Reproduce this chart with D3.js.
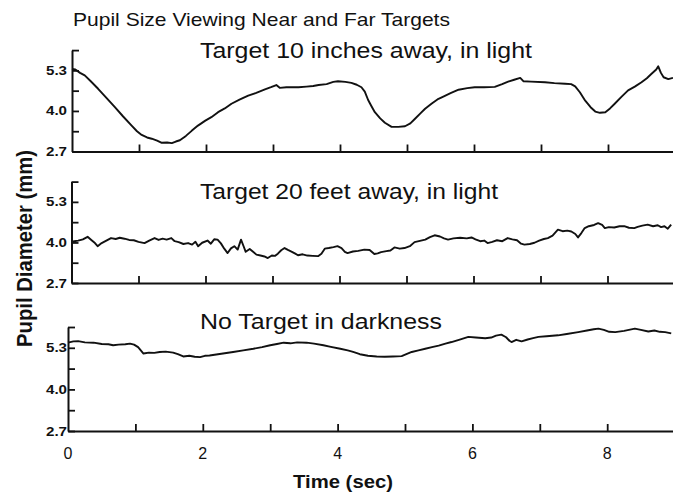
<!DOCTYPE html>
<html>
<head>
<meta charset="utf-8">
<script src="https://cdn.jsdelivr.net/npm/d3@7/dist/d3.min.js"></script>
<style>
  html, body { margin: 0; padding: 0; background: #fff; }
  svg { display: block; }
  text { font-family: "Liberation Sans", Arial, Helvetica, sans-serif; fill: #111; }
</style>
</head>
<body>
<svg id="chart" width="673" height="496"></svg>
<script>
// ---------------- DATA ----------------
const chartTitle = "Pupil Size Viewing Near and Far Targets";
const panelTitles = ["Target 10 inches away, in light", "Target 20 feet away, in light", "No Target in darkness"];
const xAxisLabel = "Time (sec)";
const yAxisLabel = "Pupil Diameter (mm)";
const xTickMarks = [1, 2, 3, 4, 5, 6, 7, 8];
const xTickLabels = [0, 2, 4, 6, 8];
const yTickMarks = [2.7, 3.35, 4.0, 4.65, 5.3, 5.95];
const yTickLabels = ["2.7", "4.0", "5.3"];

// Target 10 inches away, in light
const nearTime = [0.00,0.05,0.12,0.19,0.28,0.39,0.50,0.64,0.76,0.89,0.97,1.04,1.12,1.19,1.27,1.34,1.42,1.49,1.55,1.61,1.70,1.79,1.88,1.99,2.08,2.18,2.28,2.38,2.50,2.63,2.75,2.88,2.97,3.05,3.10,3.20,3.38,3.50,3.60,3.68,3.80,3.90,3.97,4.08,4.17,4.25,4.32,4.37,4.42,4.47,4.52,4.60,4.67,4.77,4.87,4.97,5.05,5.12,5.20,5.27,5.37,5.47,5.55,5.65,5.77,5.90,6.01,6.15,6.31,6.42,6.51,6.60,6.69,6.74,6.85,7.06,7.20,7.36,7.45,7.51,7.58,7.66,7.74,7.81,7.88,7.96,8.03,8.10,8.20,8.30,8.40,8.50,8.58,8.65,8.72,8.75,8.79,8.83,8.90,8.97];
const nearPupil = [5.35,5.33,5.22,5.14,4.95,4.71,4.45,4.12,3.83,3.53,3.35,3.23,3.15,3.11,3.05,2.98,2.99,2.97,3.02,3.06,3.20,3.37,3.53,3.69,3.80,3.96,4.08,4.23,4.36,4.49,4.58,4.69,4.76,4.83,4.74,4.76,4.76,4.78,4.80,4.83,4.86,4.93,4.95,4.93,4.90,4.84,4.76,4.62,4.35,4.15,3.96,3.76,3.62,3.49,3.49,3.51,3.60,3.75,3.92,4.07,4.24,4.39,4.47,4.57,4.68,4.73,4.76,4.76,4.77,4.86,4.94,5.00,5.06,4.95,4.94,4.92,4.89,4.87,4.86,4.79,4.60,4.33,4.12,3.98,3.94,3.96,4.08,4.23,4.45,4.66,4.78,4.92,5.05,5.19,5.33,5.43,5.22,5.08,5.02,5.06];

// Target 20 feet away, in light
const farTime = [0.00,0.04,0.10,0.17,0.24,0.30,0.35,0.39,0.45,0.52,0.59,0.66,0.72,0.79,0.86,0.93,1.00,1.09,1.16,1.24,1.30,1.36,1.42,1.49,1.54,1.60,1.67,1.74,1.80,1.85,1.89,1.95,2.03,2.08,2.13,2.18,2.23,2.28,2.33,2.38,2.43,2.48,2.53,2.57,2.60,2.66,2.71,2.76,2.82,2.88,2.93,2.99,3.04,3.08,3.13,3.18,3.23,3.29,3.34,3.38,3.45,3.52,3.60,3.68,3.73,3.78,3.84,3.91,3.97,4.03,4.08,4.12,4.20,4.28,4.37,4.45,4.52,4.57,4.62,4.70,4.76,4.82,4.90,4.97,5.05,5.12,5.20,5.28,5.35,5.42,5.50,5.56,5.62,5.70,5.80,5.90,5.97,6.03,6.10,6.16,6.21,6.28,6.35,6.43,6.51,6.58,6.65,6.71,6.76,6.84,6.91,6.98,7.05,7.11,7.18,7.26,7.33,7.40,7.46,7.52,7.56,7.61,7.66,7.72,7.80,7.86,7.92,7.96,8.02,8.10,8.18,8.25,8.32,8.40,8.45,8.52,8.60,8.68,8.75,8.80,8.85,8.90,8.95];
const farPupil = [4.02,4.04,4.06,4.10,4.18,4.07,3.98,3.88,3.98,4.06,4.14,4.11,4.15,4.12,4.08,4.07,4.02,3.98,4.06,4.14,4.08,4.12,4.09,4.14,4.04,4.01,3.95,3.98,3.93,4.02,3.88,3.99,4.06,3.96,4.10,4.09,3.97,3.80,3.66,3.81,3.88,3.77,4.09,3.87,3.70,3.79,3.70,3.61,3.58,3.55,3.50,3.58,3.57,3.64,3.75,3.82,3.76,3.70,3.64,3.59,3.62,3.58,3.57,3.56,3.64,3.80,3.82,3.85,3.88,3.82,3.70,3.66,3.71,3.73,3.77,3.76,3.63,3.65,3.69,3.72,3.74,3.84,3.80,3.82,3.88,4.01,4.05,4.09,4.17,4.23,4.19,4.13,4.09,4.13,4.15,4.13,4.16,4.10,4.04,4.06,3.98,4.02,4.07,4.04,4.14,4.10,4.07,3.96,3.93,3.95,3.99,4.06,4.11,4.14,4.22,4.41,4.36,4.38,4.35,4.27,4.16,4.30,4.46,4.52,4.56,4.62,4.56,4.46,4.49,4.48,4.52,4.52,4.47,4.46,4.50,4.54,4.57,4.52,4.55,4.49,4.52,4.44,4.57];

// No Target in darkness
const darkTime = [0.00,0.08,0.15,0.25,0.38,0.50,0.60,0.67,0.75,0.85,0.92,0.98,1.04,1.08,1.12,1.20,1.28,1.36,1.45,1.56,1.63,1.71,1.80,1.88,1.96,2.03,2.10,2.20,2.30,2.45,2.60,2.75,2.88,3.00,3.10,3.20,3.30,3.40,3.54,3.65,3.79,3.90,4.04,4.15,4.23,4.33,4.45,4.58,4.70,4.82,4.95,5.02,5.10,5.20,5.30,5.40,5.50,5.60,5.69,5.80,5.94,6.05,6.19,6.28,6.35,6.43,6.50,6.55,6.58,6.65,6.73,6.82,6.90,6.98,7.10,7.27,7.40,7.57,7.70,7.80,7.87,7.95,8.03,8.12,8.25,8.41,8.50,8.61,8.70,8.78,8.86,8.95];
const darkPupil = [5.46,5.50,5.51,5.47,5.46,5.42,5.41,5.38,5.40,5.41,5.43,5.40,5.32,5.22,5.12,5.15,5.14,5.17,5.18,5.15,5.10,5.03,5.05,5.02,5.01,5.05,5.06,5.09,5.12,5.17,5.22,5.27,5.32,5.38,5.42,5.46,5.44,5.47,5.46,5.43,5.38,5.33,5.27,5.22,5.17,5.10,5.05,5.03,5.02,5.03,5.04,5.10,5.17,5.22,5.27,5.32,5.37,5.43,5.48,5.55,5.64,5.62,5.60,5.62,5.68,5.71,5.63,5.52,5.48,5.55,5.50,5.56,5.60,5.64,5.66,5.69,5.73,5.79,5.84,5.88,5.90,5.86,5.80,5.79,5.83,5.90,5.86,5.81,5.84,5.80,5.79,5.75];

const seriesTimes = [nearTime, farTime, darkTime];
const seriesValues = [nearPupil, farPupil, darkPupil];

// ---------------- LAYOUT ----------------
const W = 673, H = 496;
const panels = [
  { x0: 72, sx: 67.0, yBase: 151.5, sy: 31.2, titleY: 58, titleLen: 332 },
  { x0: 71.5, sx: 67.0, yBase: 283, sy: 31.2, titleY: 199, titleLen: 298 },
  { x0: 68, sx: 67.4, yBase: 431, sy: 32.0, titleY: 329, titleLen: 242 }
];

const svg = d3.select("#chart");
svg.append("rect").attr("width", W).attr("height", H).attr("fill", "#fff");

svg.append("text")
  .attr("x", 73).attr("y", 26)
  .attr("font-size", 19)
  .attr("textLength", 377).attr("lengthAdjust", "spacingAndGlyphs")
  .text(chartTitle);

const ink = "#111";

panels.forEach((p, i) => {
  const x = d3.scaleLinear().domain([0, 9]).range([p.x0, p.x0 + 9 * p.sx]);
  const yTop = p.yBase - (5.95 - 2.7) * p.sy;
  const y = d3.scaleLinear().domain([2.7, 5.95]).range([p.yBase, yTop]);
  const g = svg.append("g");

  // x axis (ticks pointing up)
  const xa = g.append("g").attr("transform", `translate(0,${p.yBase})`)
    .call(d3.axisBottom(x).tickValues(xTickMarks).tickSizeInner(-7).tickSizeOuter(0).tickFormat(""));
  xa.select(".domain").attr("stroke", ink).attr("stroke-width", 2);
  xa.selectAll(".tick line").attr("stroke", ink).attr("stroke-width", 1.8);

  // y axis (ticks pointing right)
  const ya = g.append("g").attr("transform", `translate(${p.x0},0)`)
    .call(d3.axisLeft(y).tickValues(yTickMarks).tickSizeInner(-7).tickSizeOuter(0).tickFormat(""));
  ya.select(".domain").attr("stroke", ink).attr("stroke-width", 2);
  ya.selectAll(".tick line").attr("stroke", ink).attr("stroke-width", 1.8);

  // y tick labels
  g.selectAll("text.ytl").data(yTickLabels).enter().append("text")
    .attr("class", "ytl")
    .attr("x", 67).attr("y", d => y(+d) + 4.5)
    .attr("text-anchor", "end")
    .attr("font-size", 12).attr("font-weight", "bold")
    .attr("textLength", 21).attr("lengthAdjust", "spacingAndGlyphs")
    .text(d => d);

  // panel title
  g.append("text")
    .attr("x", 200).attr("y", p.titleY)
    .attr("font-size", 22)
    .attr("textLength", p.titleLen).attr("lengthAdjust", "spacingAndGlyphs")
    .text(panelTitles[i]);

  // data line
  const pts = seriesTimes[i].map((t, k) => [t, seriesValues[i][k]]);
  g.append("path")
    .datum(pts)
    .attr("fill", "none")
    .attr("stroke", ink)
    .attr("stroke-width", 1.9)
    .attr("stroke-linejoin", "round")
    .attr("d", d3.line().x(d => x(d[0])).y(d => y(d[1])));

  // x tick labels on bottom panel
  if (i === 2) {
    svg.selectAll("text.xtl").data(xTickLabels).enter().append("text")
      .attr("class", "xtl")
      .attr("x", d => x(d)).attr("y", 459)
      .attr("text-anchor", "middle")
      .attr("font-size", 16)
      .text(d => d);
  }
});

// axis titles
svg.append("text")
  .attr("x", 293).attr("y", 488)
  .attr("font-size", 18).attr("font-weight", "bold")
  .attr("textLength", 100).attr("lengthAdjust", "spacingAndGlyphs")
  .text(xAxisLabel);

svg.append("text")
  .attr("transform", "translate(32,347) rotate(-90)")
  .attr("x", 0).attr("y", 0)
  .attr("font-size", 22).attr("font-weight", "bold")
  .attr("textLength", 197).attr("lengthAdjust", "spacingAndGlyphs")
  .text(yAxisLabel);
</script>
</body>
</html>
